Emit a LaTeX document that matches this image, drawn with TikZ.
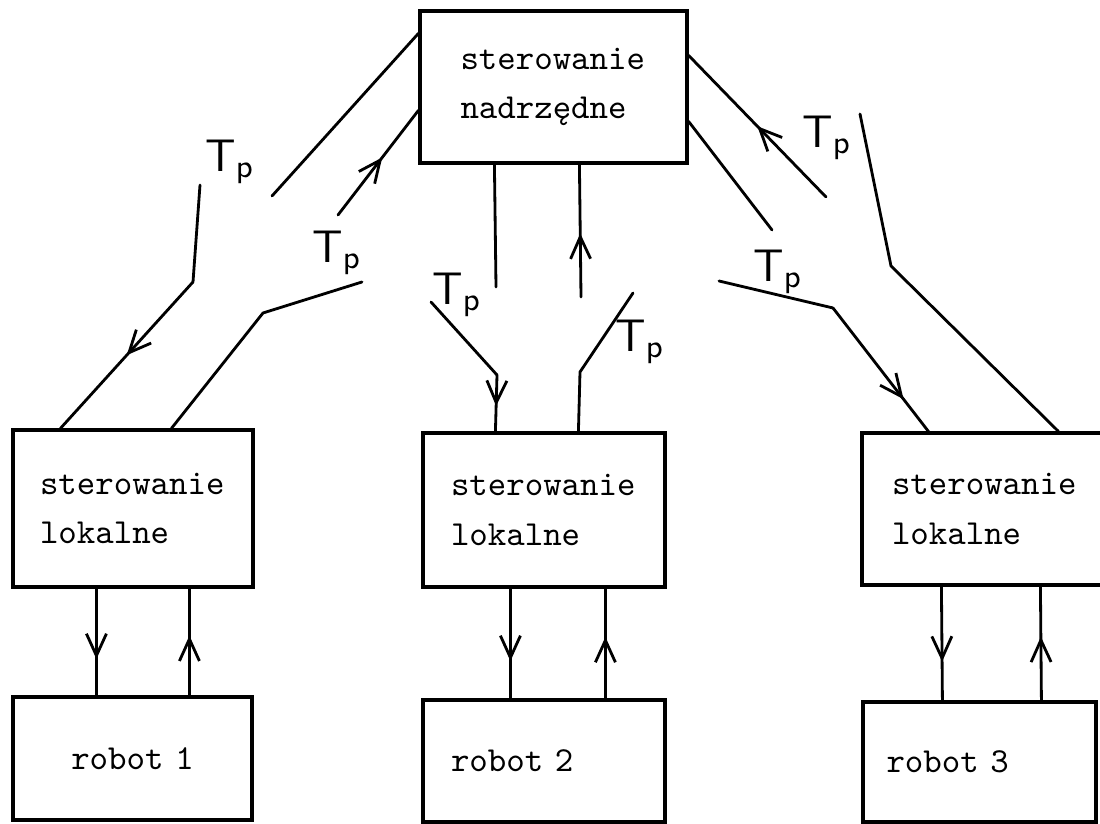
\documentclass[tikz,border=0pt]{standalone}
\usepackage{fontspec}
\usetikzlibrary{arrows.meta,decorations.markings}

\tikzset{
  blok/.style={draw, line width=0.9pt, font=\ttfamily\fontsize{10}{14}\selectfont,
    align=left, text width=1.86cm, inner xsep=0pt, inner ysep=0pt},
  linia/.style={line width=0.8pt, line cap=round},
  strz/.style={linia, postaction={decorate},
    decoration={markings, mark=at position #1 with {\arrow{Straight Barb[length=2.2mm,width=2mm]}}}},
  tp/.style={font=\fontsize{13}{13}\selectfont}
}
\newcommand{\Tp}{$\mathsf{T}_{\mathsf{p}}$}

\begin{document}
\begin{tikzpicture}
\useasboundingbox (0,0) rectangle (11,-8.24);
% bloki
\node[blok, minimum width=2.67cm, minimum height=1.52cm] (nadrz) at (5.535,-0.87) {sterowanie\\nadrzędne};
\node[blok, minimum width=2.40cm, minimum height=1.57cm] (lok1) at (1.33,-5.085) {sterowanie\\lokalne};
\node[blok, minimum width=2.42cm, minimum height=1.54cm] (lok2) at (5.44,-5.10) {sterowanie\\lokalne};
\node[blok, minimum width=2.46cm, minimum height=1.52cm] (lok3) at (9.85,-5.09) {sterowanie\\lokalne};
\node[blok, align=center, minimum width=2.39cm, minimum height=1.23cm] (rob1) at (1.325,-7.585) {robot 1};
\node[blok, minimum width=2.42cm, minimum height=1.22cm] (rob2) at (5.44,-7.61) {robot 2};
\node[blok, minimum width=2.33cm, minimum height=1.20cm] (rob3) at (9.795,-7.62) {robot 3};

% lok1 <-> nadrz
\coordinate (l1a) at (2.72,-1.96);
\coordinate (l1b) at (2.00,-1.85);
\coordinate (l1c) at (1.93,-2.82);
\coordinate (l2a) at (3.62,-2.82);
\coordinate (l2b) at (2.63,-3.13);
\coordinate (l2c) at (3.38,-2.15);
\draw[linia] ([yshift=-0.24cm]nadrz.north west) -- (l1a);
\draw[linia] (l1b) -- (l1c);
\draw[strz=0.5] (l1c) -- ([xshift=0.49cm]lok1.north west);
\draw[linia] ([xshift=1.60cm]lok1.north west) -- (l2b) -- (l2a);
\draw[strz=0.55] (l2c) -- ([yshift=-1.01cm]nadrz.north west);
\node[tp] (tp1) at (2.30,-1.62) {\Tp};
\node[tp] (tp2) at (3.37,-2.53) {\Tp};

% lok2 <-> nadrz
\coordinate (s1a) at (4.96,-2.87);
\coordinate (s1b) at (4.31,-3.02);
\coordinate (s1c) at (4.97,-3.75);
\coordinate (s2a) at (6.33,-2.93);
\coordinate (s2b) at (5.80,-3.72);
\coordinate (s2c) at (5.81,-2.97);
\draw[linia] ([xshift=0.76cm]nadrz.south west) -- (s1a);
\draw[linia] (s1b) -- (s1c);
\draw[strz=0.55] (s1c) -- ([xshift=0.74cm]lok2.north west);
\draw[linia] ([xshift=1.57cm]lok2.north west) -- (s2b) -- (s2a);
\draw[strz=0.48] (s2c) -- ([xshift=1.61cm]nadrz.south west);
\node[tp] (tp3) at (4.57,-2.95) {\Tp};
\node[tp] (tp4) at (6.40,-3.42) {\Tp};

% lok3 <-> nadrz
\coordinate (p1a) at (8.26,-1.97);
\coordinate (p1b) at (7.72,-2.30);
\coordinate (p2a) at (8.60,-1.14);
\coordinate (p2b) at (8.91,-2.66);
\coordinate (p3a) at (7.19,-2.81);
\coordinate (p3b) at (8.33,-3.08);
\draw[strz=0.5] (p1a) -- ([yshift=-0.46cm]nadrz.north east);
\draw[linia] ([yshift=-1.12cm]nadrz.north east) -- (p1b);
\draw[linia] (p2a) -- (p2b) -- ([xshift=1.98cm]lok3.north west);
\draw[linia] (p3a) -- (p3b);
\draw[strz=0.74] (p3b) -- ([xshift=0.68cm]lok3.north west);
\node[tp] (tp5) at (8.27,-1.38) {\Tp};
\node[tp] (tp6) at (7.78,-2.72) {\Tp};

% lok <-> robot
\foreach \i/\xd/\xu in {1/0.85/1.78, 2/0.89/1.84, 3/0.81/1.80} {
  \draw[strz=0.66] ([xshift=\xd cm]lok\i.south west) -- ([xshift=\xd cm]rob\i.north west);
  \draw[strz=0.56] ([xshift=\xu cm]rob\i.north west) -- ([xshift=\xu cm]lok\i.south west);
}
\end{tikzpicture}
\end{document}
